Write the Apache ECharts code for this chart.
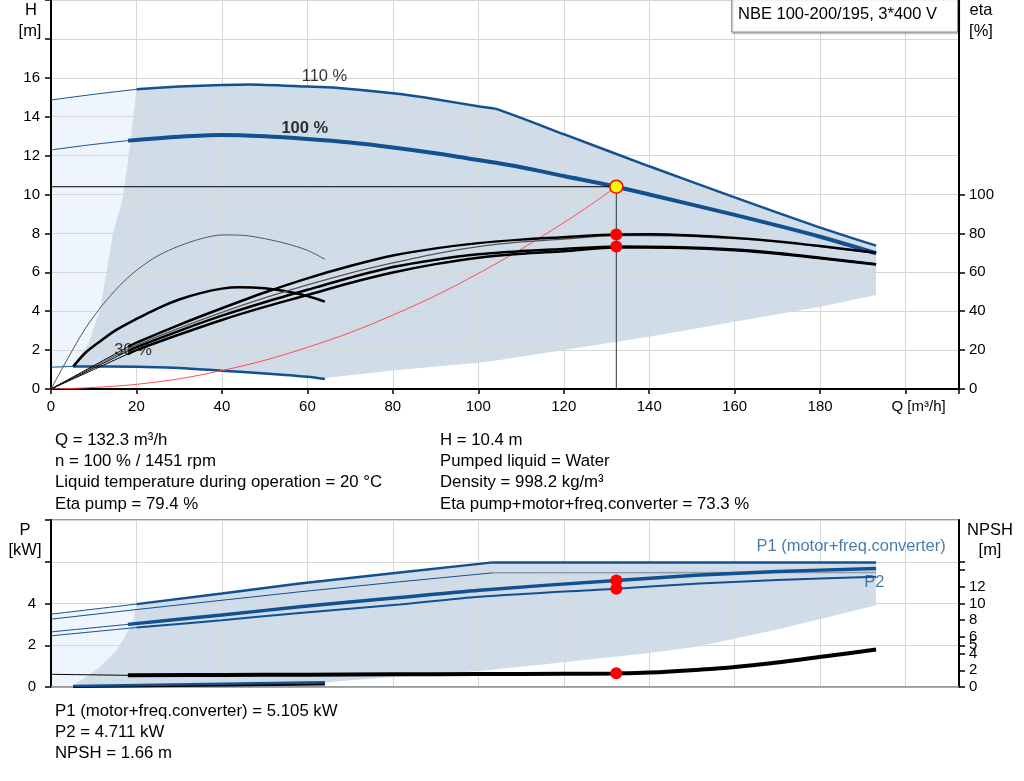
<!DOCTYPE html>
<html><head><meta charset="utf-8">
<script src="https://cdn.jsdelivr.net/npm/echarts@6/dist/echarts.min.js"></script>
<style>html,body{margin:0;padding:0;background:#fff}#c{width:1024px;height:781px}</style>
</head><body><div id="c"></div>
<script>
// ---------- Top chart (Q-H / eta) ----------
const xTicks = [0, 20, 40, 60, 80, 100, 120, 140, 160, 180];
const h110Thin = [[0,14.86],[10,15.15],[20,15.41]];
const h110 = [[20,15.41],[30,15.55],[40,15.63],[46.5,15.66],[60,15.55],[66,15.5],[80,15.2],[90,14.9],[100.3,14.52],[104.2,14.4],[120,13.1],[140,11.45],[160,9.85],[180,8.3],[193.1,7.37]];
const h100Thin = [[0,12.29],[9,12.55],[18,12.77]];
const h100 = [[18,12.77],[30,12.97],[40,13.06],[50,12.99],[60,12.85],[70,12.67],[80,12.42],[90,12.12],[100,11.77],[110,11.4],[120,10.95],[132.3,10.4],[140,10.0],[160,8.95],[180,7.83],[193.1,6.98]];
const h30Thin = [[0,1.12],[5.2,1.16]];
const h30 = [[5.2,1.16],[20,1.15],[30,1.08],[40,0.94],[50,0.8],[60,0.63],[64.1,0.51]];
const hLeftBound = [[5.2,1.16],[8.7,2.3],[11.5,4.1],[14.6,8.1],[16.7,9.7],[18.5,12.5],[20,15.41]];
const hLowBound = [[64.1,0.57],[80,0.95],[100,1.35],[105,1.49],[120,2.0],[140,2.69],[160,3.46],[180,4.23],[193.1,4.83]];
const sysCurve = [[0,0],[20,0.24],[40,0.95],[60,2.14],[80,3.8],[100,5.94],[120,8.55],[132.3,10.4]];
const eta30Pump = [[0,0],[4,16],[8,31],[12,43],[16,53],[20,61],[25,68.5],[30,73.5],[35,77.2],[40,79.2],[45,79],[50,77.3],[55,74.8],[60,71.3],[64.1,66.7]];
const eta30Tot = [[5.2,11.5],[8,18.5],[11.5,24.5],[15,30],[20,36],[25,41.5],[30,46],[35,49.3],[40,51.6],[44,52.3],[50,51.8],[55,50.3],[60,47.8],[64.1,44.9]];
const etaPump100 = [[0,0],[10,12],[18,21.6],[20,23.8],[30,33],[40,41.5],[50,49.6],[60,56.9],[70,63.2],[80,68.6],[90,72.3],[100,75],[110,76.8],[120,78],[132.3,79.4],[140,79.5],[150,78.9],[160,77.7],[170,75.9],[180,73.5],[193.1,70]];
const etaPump110 = [[0,0],[10,11.4],[18,20.5],[20,22.6],[30,31.3],[40,39.4],[50,46.8],[60,53.5],[70,59.6],[80,64.8],[90,69.5],[100,73.2],[110,75.6],[120,77.1],[132.3,78.9],[145,78.8],[160,77.3],[170,75.5],[180,73.2],[193.1,69.8]];
const etaTot100 = [[0,0],[10,10.8],[18,19.5],[20,21.5],[30,29.9],[40,37.7],[50,44.6],[60,51],[70,57.2],[80,62.7],[90,66.5],[100,69.3],[110,70.9],[120,72],[132.3,73.3],[145,73.0],[160,71.7],[170,69.9],[180,67.5],[193.1,64.2]];
const etaTot110 = [[0,0],[10,10],[18,18],[20,20],[30,28],[40,35.5],[50,42.2],[60,48.3],[70,54.5],[80,59.9],[90,64.2],[100,67.5],[110,69.5],[120,70.8],[132.3,72.7],[145,72.6],[160,71.3],[170,69.5],[180,67.2],[193.1,64.0]];
const opQ = 132.3, opH = 10.4, opEtaPump = 79.4, opEtaTot = 73.3;
const curveLabels = [{name:'110 %', value:[64,16.05], bold:false},{name:'100 %', value:[59.4,13.4], bold:true},{name:'30 %', value:[19.2,2.0], bold:false}];

// ---------- Bottom chart (P / NPSH) ----------
const p1_110Thin = [[0,3.49],[20,3.97]];
const p1_110 = [[20,3.97],[40,4.48],[58.2,4.96],[81.6,5.49],[103.4,5.97],[193.1,5.97]];
const p2_110 = [[0,3.25],[20,3.71],[58.2,4.56],[81.6,5.04],[103.4,5.47]];
const p2_110Flat = [[103.4,5.47],[193.1,5.49]];
const p1_100Thin = [[0,2.64],[18,3.0]];
const p1_100 = [[18,3.0],[40,3.45],[58.2,3.84],[81.6,4.29],[100.3,4.64],[132.3,5.105],[151.8,5.36],[170,5.53],[193.1,5.68]];
const p2_100Thin = [[0,2.45],[20,2.85]];
const p2_100 = [[20,2.85],[40,3.2],[58.2,3.55],[81.6,3.95],[100.3,4.32],[132.3,4.711],[151.8,4.96],[170,5.12],[193.1,5.28]];
const p1_30 = [[5.2,0.05],[64.1,0.23]];
const p2_30 = [[5.2,0.01],[64.1,0.13]];
const pLeftBound = [[5,0.05],[8,0.45],[11.5,0.96],[15.4,1.76],[17.7,2.56],[19.3,3.2],[20,3.97]];
const pLowBound = [[5,0.05],[40,0.1],[64.1,0.2],[70,0.32],[100.3,0.77],[120.5,1.2],[140,1.63],[151.8,1.95],[171,2.8],[193.1,3.92]];
const npshThin = [[0,1.52],[18,1.4]];
const npsh = [[18,1.4],[40,1.44],[60,1.48],[80,1.52],[100,1.55],[120,1.58],[132.3,1.63],[140,1.73],[151.8,2.08],[160,2.4],[171,3.0],[183,3.8],[193.1,4.49]];
const opP1 = 5.105, opP2 = 4.711, opNPSH = 1.66;
const npshTicks = [0,2,4,5,6,8,10,12,14,15];
const npshLabels = [0,2,4,5,6,8,10,12];
const etaTicks = [0,20,40,60,80,100];

const infoLeft = ['Q = 132.3 m³/h','n = 100 % / 1451 rpm','Liquid temperature during operation = 20 °C','Eta pump = 79.4 %'];
const infoRight = ['H = 10.4 m','Pumped liquid = Water','Density = 998.2 kg/m³','Eta pump+motor+freq.converter = 73.3 %'];
const infoBottom = ['P1 (motor+freq.converter) = 5.105 kW','P2 = 4.711 kW','NPSH = 1.66 m'];

// ---------- helpers ----------
const FONT = '"Liberation Sans", Arial, sans-serif';
const BLUE = '#13508f';
const DARK = '#d0dce8', LIGHT = '#eef5fc';
const TXT = 16.5, INFO = 16.8, TICK = 15;

function poly(points, color, xi, yi) {
  return { type:'custom', xAxisIndex:xi, yAxisIndex:yi, silent:true, z:1,
    data: points,
    renderItem: function (params, api) {
      if (params.dataIndex !== 0) return null;
      return { type:'polygon', shape:{ points: points.map(p => api.coord(p)) }, style:{ fill: color } };
    } };
}
function line(data, color, width, xi, yi, smooth, z) {
  return { type:'line', data:data, xAxisIndex:xi, yAxisIndex:yi, symbol:'none', silent:true,
    smooth: smooth === undefined ? 0.3 : smooth, lineStyle:{ color:color, width:width }, z: z || 5 };
}
function dot(x, y, xi, yi, size, fill, border) {
  return { type:'scatter', xAxisIndex:xi, yAxisIndex:yi, data:[[x,y]], symbolSize:size, silent:true, z:10,
    itemStyle:{ color:fill, borderColor: border || fill, borderWidth: border ? 1.5 : 0, opacity:1 } };
}
function txt(t, x, y, opt) {
  opt = opt || {};
  return { type:'text', x:x, y:y, z:100, style:{ text:t, fill: opt.fill || '#000', fontSize: opt.size || TXT,
    fontFamily: FONT, fontWeight: opt.weight || 'normal', align: opt.align || 'left', verticalAlign:'middle' } };
}

const chart = echarts.init(document.getElementById('c'), null, { renderer:'canvas' });

const labelStyle = { color:'#000', fontSize:TICK, fontFamily:FONT };
const option = {
  animation:false,
  grid:[
    { left:51, right:65, top:0, height:389, show:true, borderColor:'#aaa', borderWidth:1, backgroundColor:'transparent' },
    { left:51, right:65, top:520, height:167, show:true, borderColor:'#333', borderWidth:1, backgroundColor:'transparent' }
  ],
  xAxis:[
    { type:'value', gridIndex:0, min:0, max:212.5, interval:20, z:2,
      axisLine:{ lineStyle:{ color:'#000', width:2 } },
      axisTick:{ show:true, length:5, lineStyle:{ color:'#000', width:1.5 } },
      axisLabel:{ ...labelStyle, margin:10,
        formatter: v => v === 200 ? '{q|Q [m³/h]}' : (xTicks.indexOf(v) >= 0 ? String(v) : ''),
        rich:{ q:{ color:'#000', fontSize:TICK, fontFamily:FONT, padding:[0,0,0,26] } } },
      splitLine:{ show:true, lineStyle:{ color:'#d6d6d6', width:1 } } },
    { type:'value', gridIndex:1, min:0, max:212.5, interval:20, z:2,
      axisLine:{ lineStyle:{ color:'#999', width:1.5 } },
      axisTick:{ show:false }, axisLabel:{ show:false },
      splitLine:{ show:true, lineStyle:{ color:'#d6d6d6', width:1 } } }
  ],
  yAxis:[
    { type:'value', gridIndex:0, position:'left', min:0, max:20, interval:2, z:2,
      axisLine:{ show:true, lineStyle:{ color:'#000', width:2 } },
      axisTick:{ show:true, length:6, lineStyle:{ color:'#000', width:1.5 } },
      axisLabel:{ ...labelStyle, margin:11, formatter: v => v <= 16 ? String(v) : '' },
      splitLine:{ show:true, lineStyle:{ color:'#d6d6d6', width:1 } } },
    { type:'value', gridIndex:0, position:'right', min:0, max:200, interval:20, z:2,
      axisLine:{ show:true, lineStyle:{ color:'#000', width:2 } },
      axisTick:{ show:true, length:6, customValues: etaTicks, lineStyle:{ color:'#000', width:1.5 } },
      axisLabel:{ ...labelStyle, margin:10, customValues: etaTicks, formatter: v => v <= 100 ? String(v) : '' },
      splitLine:{ show:false } },
    { type:'value', gridIndex:1, position:'left', min:0, max:8, interval:2, z:2,
      axisLine:{ show:true, lineStyle:{ color:'#000', width:2 } },
      axisTick:{ show:true, length:6, lineStyle:{ color:'#000', width:1.5 } },
      axisLabel:{ ...labelStyle, margin:15, formatter: v => v <= 4 ? String(v) : '' },
      splitLine:{ show:true, lineStyle:{ color:'#d6d6d6', width:1 } } },
    { type:'value', gridIndex:1, position:'right', min:0, max:20, interval:2, z:2,
      axisLine:{ show:true, lineStyle:{ color:'#000', width:2 } },
      axisTick:{ show:true, length:6, customValues: npshTicks, lineStyle:{ color:'#000', width:1.5 } },
      axisLabel:{ ...labelStyle, margin:10, customValues: npshLabels },
      splitLine:{ show:false } }
  ],
  series:[
    // regions top
    poly([[0,1.12],[0,14.86],[10,15.15],[20,15.41],[20,1.15]], LIGHT, 0, 0),
    poly([].concat(hLeftBound, h110.slice(1), [[193.1,4.83]], hLowBound.slice().reverse(), h30.slice().reverse()), DARK, 0, 0),
    // H curves
    line(h110Thin, BLUE, 1, 0, 0),
    line(h110, BLUE, 2.5, 0, 0, 0.2),
    line(h100Thin, BLUE, 1, 0, 0),
    line(h100, BLUE, 4, 0, 0),
    line(h30Thin, BLUE, 1, 0, 0),
    line(h30, BLUE, 2.5, 0, 0),
    // system curve
    line(sysCurve, '#ff4d4d', 1, 0, 0, 0.4),
    // eta curves
    line(eta30Pump, '#555', 1, 0, 1, 0.3),
    line(eta30Tot, '#000', 2.5, 0, 1, 0.3),
    line(etaTot110.slice(0,3), '#000', 1, 0, 1),
    line(etaTot110.slice(2), '#000', 2.5, 0, 1),
    line(etaTot100.slice(0,3), '#000', 1, 0, 1),
    line(etaTot100.slice(2), '#000', 2.5, 0, 1),
    line(etaPump110.slice(0,3), '#444', 1, 0, 1),
    line(etaPump110.slice(2), '#555', 1.3, 0, 1),
    line(etaPump100.slice(0,3), '#000', 1, 0, 1),
    line(etaPump100.slice(2), '#000', 2.5, 0, 1),
    // operating point guides
    line([[0,opH],[opQ,opH]], '#000', 1, 0, 0, false, 6),
    line([[opQ,opH],[opQ,0]], '#333', 1, 0, 0, false, 6),
    dot(opQ, opH, 0, 0, 13, '#ffff00', '#ff0000'),
    dot(opQ, opEtaPump, 0, 1, 12, '#ff0000'),
    dot(opQ, opEtaTot, 0, 1, 12, '#ff0000'),
    // curve labels
    { type:'scatter', xAxisIndex:0, yAxisIndex:0, symbolSize:0, silent:true, z:4,
      data: curveLabels.map(c => ({ name:c.name, value:c.value,
        label:{ show:true, position:'inside', formatter:c.name, color:'#000', fontSize:TXT, fontFamily:FONT, fontWeight: c.bold ? 'bold' : 'normal' } })) },

    // regions bottom
    poly([[0,0.05],[0,3.49],[20,3.97],[20,0.05]], LIGHT, 1, 2),
    poly([].concat(pLeftBound, p1_110.slice(1), [[193.1,3.92]], pLowBound.slice().reverse()), DARK, 1, 2),
    // power curves
    line(p1_110Thin, BLUE, 1, 1, 2),
    line(p1_110, BLUE, 2.5, 1, 2, false),
    line(p2_110, BLUE, 1, 1, 2, false),
    line(p2_110Flat, '#8a9bb0', 1.5, 1, 2, false),
    line(p1_100Thin, BLUE, 1, 1, 2),
    line(p1_100, BLUE, 3.5, 1, 2),
    line(p2_100Thin, BLUE, 1, 1, 2),
    line(p2_100, BLUE, 2, 1, 2),
    line(p2_30, '#000', 2.5, 1, 2, false),
    line(p1_30, BLUE, 2.5, 1, 2, false),
    // NPSH
    line(npshThin, '#000', 1, 1, 3),
    line(npsh, '#000', 4, 1, 3, 0.4),
    dot(opQ, opP1, 1, 2, 12, '#ff0000'),
    dot(opQ, opP2, 1, 2, 12, '#ff0000'),
    dot(opQ, opNPSH, 1, 3, 12, '#ff0000'),
    { type:'scatter', xAxisIndex:1, yAxisIndex:2, symbolSize:0, silent:true, z:4,
      data:[
        { value:[209.4,6.75], label:{ show:true, position:'left', distance:0, formatter:'P1 (motor+freq.converter)', color:'#1d5a98', fontSize:TXT, fontFamily:FONT } },
        { value:[192.7,5.03], label:{ show:true, position:'inside', formatter:'P2', color:'#1d5a98', fontSize:TXT, fontFamily:FONT } }
      ] }
  ],
  graphic:[
    txt('H', 31, 10, {align:'center'}), txt('[m]', 30, 31, {align:'center'}),
    txt('eta', 981, 10, {align:'center'}), txt('[%]', 981, 31, {align:'center'}),
    { type:'rect', z:90, shape:{ x:731.5, y:-2, width:226, height:34 },
      style:{ fill:'#fff', stroke:'#999', lineWidth:1, shadowBlur:2, shadowOffsetX:1, shadowOffsetY:1, shadowColor:'rgba(0,0,0,0.35)' } },
    txt('NBE 100-200/195, 3*400 V', 738, 14),
    ...infoLeft.map((t,i) => txt(t, 55, 440 + i*21.4, {size:INFO})),
    ...infoRight.map((t,i) => txt(t, 440, 440 + i*21.4, {size:INFO})),
    txt('P', 25, 530, {align:'center'}), txt('[kW]', 25, 550, {align:'center'}),
    txt('NPSH', 990, 530, {align:'center'}), txt('[m]', 990, 550, {align:'center'}),
    ...infoBottom.map((t,i) => txt(t, 55, 711 + i*21.2, {size:INFO}))
  ]
};
chart.setOption(option);
</script>
</body></html>
